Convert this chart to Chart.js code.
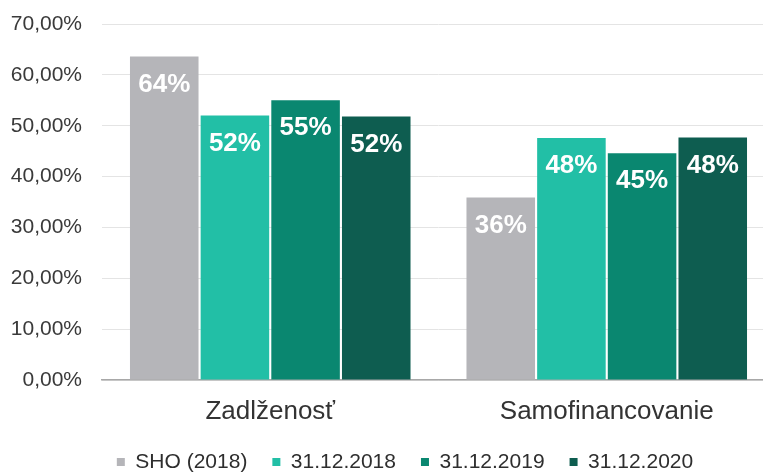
<!DOCTYPE html>
<html>
<head>
<meta charset="utf-8">
<script src="https://cdn.jsdelivr.net/npm/chart.js@4/dist/chart.umd.min.js"></script>
<style>
  html, body { margin: 0; padding: 0; background: #fff; overflow: hidden; }
  #wrap { width: 775px; height: 473px; }
</style>
</head>
<body>
<div id="wrap"><canvas id="chart" width="775" height="473"></canvas></div>
<script>
// categories and series (values in %)
var categories = ["Zadlženosť", "Samofinancovanie"];
var seriesNames = ["SHO (2018)", "31.12.2018", "31.12.2019", "31.12.2020"];
var sho2018 = [63.6, 35.9];
var d2018 = [52.0, 47.6];
var d2019 = [55.0, 44.6];
var d2020 = [51.8, 47.7];
var colors = ["#b5b5b9", "#22bfa6", "#0a8770", "#0e5d50"];
var yTicks = [0, 10, 20, 30, 40, 50, 60, 70];

var font = "'Liberation Sans', Arial, sans-serif";
Chart.defaults.font.family = font;
Chart.defaults.color = "#3a3a3a";

// white value labels inside the top of each bar
var barLabels = {
  id: "barLabels",
  afterDatasetsDraw: function(chart) {
    var ctx = chart.ctx;
    ctx.save();
    ctx.fillStyle = "#ffffff";
    ctx.font = "bold 26px " + font;
    ctx.textAlign = "center";
    ctx.textBaseline = "middle";
    chart.data.datasets.forEach(function(ds, i) {
      chart.getDatasetMeta(i).data.forEach(function(bar, j) {
        ctx.fillText(Math.round(ds.data[j]) + "%", bar.x, bar.y + 28);
      });
    });
    ctx.restore();
  }
};

// legend sits a bit right of the canvas centre in the original
var legendShift = {
  id: "legendShift",
  beforeDraw: function(chart) {
    var lg = chart.legend;
    lg.left = 17.5;
    lg.right = chart.width + 17.5;
  }
};

var data = {
  labels: categories,
  datasets: [sho2018, d2018, d2019, d2020].map(function(vals, i) {
    return {
      label: seriesNames[i],
      data: vals,
      backgroundColor: colors[i],
      borderWidth: 0,
      barPercentage: 0.97,
      categoryPercentage: 0.84
    };
  })
};

var chart = new Chart(document.getElementById("chart").getContext("2d"), {
  type: "bar",
  data: data,
  plugins: [barLabels, legendShift],
  options: {
    responsive: false,
    animation: false,
    devicePixelRatio: 1,
    layout: { padding: { left: 0, top: 24, right: 0, bottom: -9.5 } },
    plugins: {
      tooltip: { enabled: false },
      legend: {
        position: "bottom",
        labels: {
          boxWidth: 8,
          boxHeight: 8,
          padding: 25,
          color: "#2e2e2e",
          font: { size: 21 }
        }
      }
    },
    scales: {
      x: {
        grid: { display: false, drawTicks: false },
        border: { display: true, color: "#a8a8a8", width: 1.5 },
        ticks: { color: "#333", font: { size: 26 }, padding: 16 },
        afterFit: function(scale) { scale.height = 46.5; }
      },
      y: {
        min: 0,
        max: 70,
        afterBuildTicks: function(scale) {
          scale.ticks = yTicks.map(function(v) { return { value: v }; });
        },
        grid: { color: "#e4e4e4", lineWidth: 1, drawTicks: false },
        border: { display: false },
        ticks: {
          color: "#3a3a3a",
          font: { size: 21 },
          padding: 20,
          callback: function(v) { return v.toFixed(2).replace(".", ",") + "%"; }
        },
        afterFit: function(scale) {
          scale.width = 102;
          scale.paddingTop = 0;
          scale.paddingBottom = 0;
        }
      }
    }
  }
});
</script>
</body>
</html>
